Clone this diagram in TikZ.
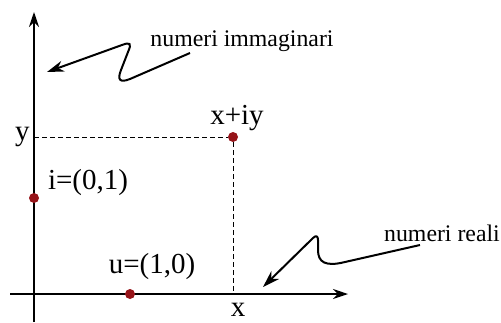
\documentclass[tikz,border=0pt]{standalone}
\usepackage{fontspec}
\setmainfont{Liberation Serif}
\usetikzlibrary{arrows.meta,positioning}
\definecolor{dotred}{RGB}{150,20,25}

\begin{document}
\begin{tikzpicture}[x=0.5pt,y=-0.5pt,
  axis/.style={line width=0.65pt,-{Stealth[length=7.5pt,width=5pt]}},
  guide/.style={line width=0.5pt,dash pattern=on 2.5pt off 1.5pt},
  pointer/.style={line width=1pt,-{Stealth[length=8.5pt,width=5.5pt]}},
  dot/.style={circle,fill=dotred,inner sep=0pt,minimum size=5pt},
  lbl/.style={font=\fontsize{14.5}{17}\selectfont,inner sep=1pt},
  note/.style={font=\fontsize{11.9}{14}\selectfont,inner sep=1pt}]
\useasboundingbox (0,0) rectangle (501,322);

% Axes
\coordinate (xstart) at (10,294);
\coordinate (xend) at (348,294);
\coordinate (ystart) at (34,322);
\coordinate (yend) at (34,12);
\draw[axis] (xstart) -- (xend);
\draw[axis] (ystart) -- (yend);

% Points
\node[dot] (z) at (233,137) {};
\node[dot] (i) at (34,198) {};
\node[dot] (u) at (130,294) {};

% Projections of x+iy
\coordinate (yproj) at (34,137);
\coordinate (xproj) at (233,294);
\draw[guide] (yproj) -- (z) -- (xproj);

% Labels
\node[lbl,left=1pt of yproj] (ylab) {y};
\node[lbl] (xlab) at (238,310) {x};
\node[lbl] (zlab) at (237,118) {x+iy};
\node[lbl] (ilab) at (88,183) {i=(0,1)};
\node[lbl] (ulab) at (152,267) {u=(1,0)};

% Pointers to the axes
\node[note] (imag) at (242,41) {numeri immaginari};
\node[note] (real) at (442,233) {numeri reali};
\coordinate (imagstart) at (190,53);
\coordinate (imagtip) at (47,72);
\coordinate (realstart) at (420,245);
\coordinate (realtip) at (263,287);
\draw[pointer] (imagstart) -- (130,79) .. controls (120,83) and (117,80) .. (121,70)
    -- (128,52) .. controls (132,43) and (130,42) .. (122,45) -- (imagtip);
\draw[pointer] (realstart) -- (345,262) .. controls (325,267) and (318,262) .. (318,250)
    -- (318,240) .. controls (318,236) and (316,235) .. (313,238) -- (realtip);
\end{tikzpicture}
\end{document}
